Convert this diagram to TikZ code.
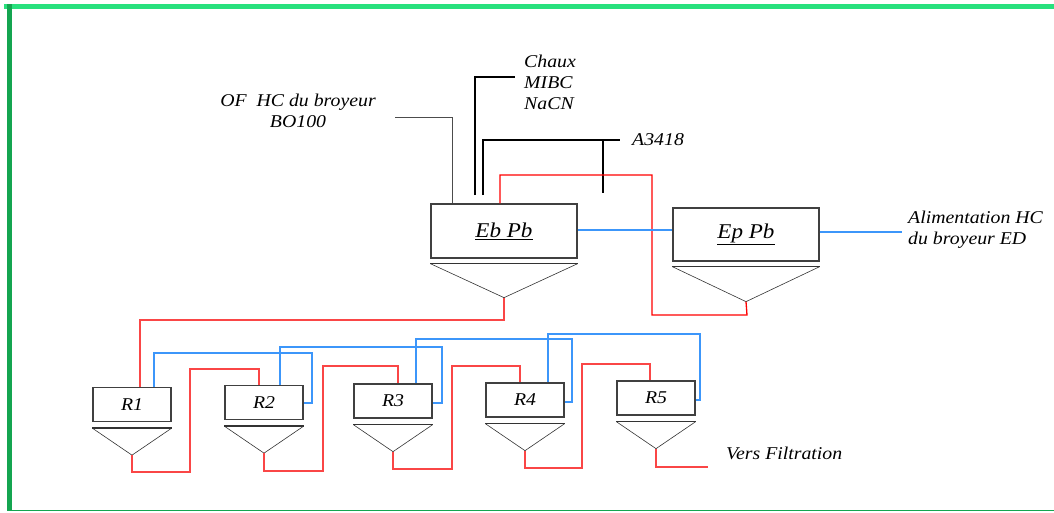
\documentclass[tikz,border=0pt]{standalone}
\usepackage{fontspec}
\setmainfont{Liberation Serif}[FakeStretch=1.1]
\usepackage{tikz}
\usetikzlibrary{positioning,calc}
\definecolor{flowred}{RGB}{250,70,70}
\definecolor{flowblue}{RGB}{60,150,250}
\definecolor{framegreen}{RGB}{40,225,125}
\definecolor{framedark}{RGB}{20,165,80}

\begin{document}
\begin{tikzpicture}[x=1pt,y=-1pt,font=\fontsize{18}{21}\selectfont\itshape,
 cell/.style={draw=black!75,line width=1.3pt,fill=white,minimum width=78pt,minimum height=34pt,inner sep=0pt},
 bigcell/.style={cell,minimum width=146pt,minimum height=54pt,font=\fontsize{21}{24}\selectfont\itshape},
 hopper/.style={draw=black!80,line width=0.6pt},
 hoptop/.style={draw=black!80,line width=1.6pt},
 redline/.style={draw=flowred,line width=1.3pt},
 blueline/.style={draw=flowblue,line width=1.3pt},
 feed/.style={draw=black,line width=1.6pt},
 lbl/.style={align=center,inner sep=0pt}]
\useasboundingbox (0,0) rectangle (1054,512);
% frame
\fill[framegreen] (4,4) rectangle (1054,9);
\fill[framedark] (7,4) rectangle (12,510);
\draw[framedark,line width=1pt] (7,510) -- (1054,510);

% thickeners
\node[bigcell] (eb) at (504,231) {\underline{Eb Pb}};
\node[bigcell,minimum height=53pt] (ep) at (746,234.5) {\underline{Ep Pb}};
\foreach \n/\y in {eb/39,ep/40}{
 \draw[hopper] ([yshift=-5pt]\n.south west) -- ([yshift=-\y pt]\n.south) -- ([yshift=-5pt]\n.south east);
 \draw[hoptop] ([yshift=-5pt]\n.south west) -- ([yshift=-5pt]\n.south east);
 \coordinate (\n o) at ([yshift=-\y pt]\n.south);
}

% flotation cells
\node[cell] (r1) at (132,404.5) {R1};
\node[cell] (r2) at (264,402.5) {R2};
\node[cell] (r3) at (393,401) {R3};
\node[cell] (r4) at (525,400) {R4};
\node[cell] (r5) at (656,398) {R5};
\foreach \n in {r1,r2,r3,r4,r5}{
 \draw[hopper] ([yshift=-6pt]\n.south west) -- ([yshift=-33pt]\n.south) -- ([yshift=-6pt]\n.south east);
 \draw[hoptop] ([yshift=-6pt]\n.south west) -- ([yshift=-6pt]\n.south east);
 \coordinate (\n o) at ([yshift=-33pt]\n.south);
}

% labels
\node[lbl] (of) at (298,111) {OF\ \ HC du broyeur\\BO100};
\node[lbl,anchor=west,align=left] (chaux) at (524,82) {Chaux\\MIBC\\NaCN};
\node[lbl,anchor=west] (a3418) at (632,140) {A3418};
\node[lbl,anchor=west,align=left] (alim) at (908,230) {Alimentation HC\\du broyeur ED};
\node[lbl,anchor=west] (vers) at (726,453) {Vers Filtration};

% reagents and feed
\draw[black!70,line width=1pt] (395,117) -| (452,117 |- eb.north);
\draw[feed] (475,195) |- (515,77);
\draw[feed] (483,195) |- (620,140);
\draw[feed] (603,140) -- (603,193);

% pulp (red)
\draw[redline,draw=red] (500,0 |- eb.north) |- (652,175) |- (747,315) -- (epo);
\draw[redline] (ebo) |- (140,320) -- (140,320 |- r1.north);
\draw[redline] (r1o) |- (190,472) |- (259,369) -- (259,369 |- r2.north);
\draw[redline] (r2o) |- (323,471) |- (398,366) -- (398,366 |- r3.north);
\draw[redline] (r3o) |- (452,469) |- (520,366) -- (520,366 |- r4.north);
\draw[redline] (r4o) |- (582,468) |- (650,364) -- (650,364 |- r5.north);
\draw[redline] (r5o) |- (708,467);

% froth (blue)
\draw[blueline] (eb.east |- 0,230) -- (ep.west |- 0,230);
\draw[blueline] (ep.east |- 0,232) -- (902,232);
\draw[blueline] (154,0 |- r1.north) |- (312,353) |- (r2.east |- 0,403);
\draw[blueline] (280,0 |- r2.north) |- (442,347) |- (r3.east |- 0,403);
\draw[blueline] (416,0 |- r3.north) |- (572,339) |- (r4.east |- 0,402);
\draw[blueline] (548,0 |- r4.north) |- (700,334) |- (r5.east |- 0,400);
\end{tikzpicture}
\end{document}
